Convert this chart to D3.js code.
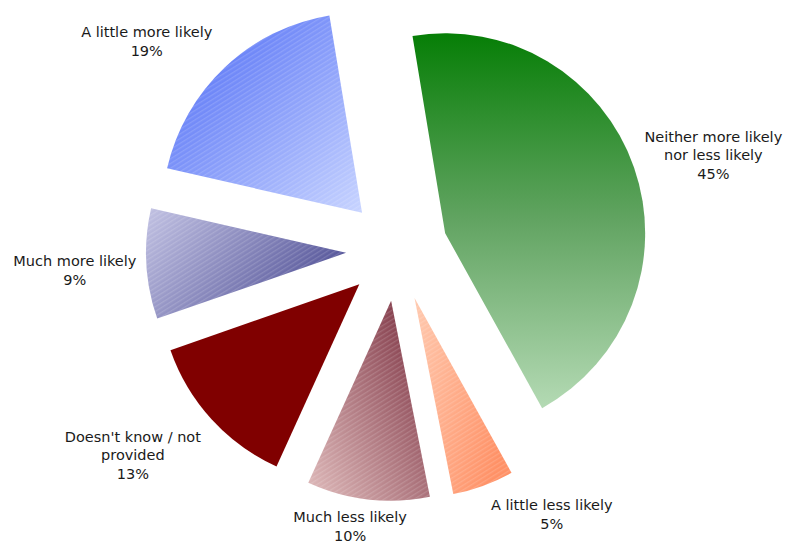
<!DOCTYPE html>
<html>
<head>
<meta charset="utf-8">
<script src="https://cdn.jsdelivr.net/npm/d3@7/dist/d3.min.js"></script>
<style>
  html, body { margin: 0; padding: 0; background: #ffffff; }
  svg { display: block; }
  text { font-family: "DejaVu Sans", Verdana, sans-serif; font-size: 14.5px; fill: #1a1a1a; }
</style>
</head>
<body>
<svg id="chart" width="788" height="544"></svg>
<script>
// Survey responses, clockwise from the top
const categories = [
  "Neither more likely nor less likely",
  "A little less likely",
  "Much less likely",
  "Doesn't know / not provided",
  "Much more likely",
  "A little more likely"
];
const labelLines = [
  ["Neither more likely", "nor less likely"],
  ["A little less likely"],
  ["Much less likely"],
  ["Doesn't know / not", "provided"],
  ["Much more likely"],
  ["A little more likely"]
];
const percentages = [45, 5, 10, 13, 9, 19];

// Slice fills: gradient stops and direction (bounding-box units)
const fills = [
  { stops: ["#067e06", "#62a462", "#b4dab4"], dir: [0, 0, 0, 1], hatch: false },
  { stops: ["#ffcab0", "#ff9166"], dir: [0, 0, 1, 0.6], hatch: true },
  { stops: ["#e0bcbc", "#76293a"], dir: [0, 1, 1, 0], hatch: true },
  { stops: ["#800000", "#800000"], dir: [0, 0, 1, 0], hatch: false },
  { stops: ["#c2c2e3", "#56569a"], dir: [0, 0, 1, 0.45], hatch: true },
  { stops: ["#4866f5", "#c8d4ff"], dir: [0, 0, 1, 1], hatch: true }
];
// Small label adjustments (px) applied after the outside-end placement
const labelNudge = [[0, 1], [42.5, 0], [-10, -2], [-2.5, 3.5], [1, 5], [-9, 1]];

const svg = d3.select("#chart");
const cx = 397, cy = 250;
const radius = 200;
const explode = 51;
const labelGap = 11;
const lineH = 18.5;

const defs = svg.append("defs");
fills.forEach((f, i) => {
  const g = defs.append("linearGradient")
    .attr("id", "grad" + i)
    .attr("x1", f.dir[0]).attr("y1", f.dir[1])
    .attr("x2", f.dir[2]).attr("y2", f.dir[3]);
  f.stops.forEach((c, k) => {
    g.append("stop").attr("offset", (k / (f.stops.length - 1)) * 100 + "%").attr("stop-color", c);
  });
});
// Fine diagonal texture on the shaded slices
const pat = defs.append("pattern")
  .attr("id", "hatch")
  .attr("patternUnits", "userSpaceOnUse")
  .attr("width", 4).attr("height", 4)
  .attr("patternTransform", "rotate(-32)");
pat.append("rect").attr("width", 4).attr("height", 1.3)
  .attr("fill", "#ffffff").attr("fill-opacity", 0.15);

const start = -9.4 * Math.PI / 180;
const pie = d3.pie().sort(null).value(d => d)
  .startAngle(start).endAngle(start + 2 * Math.PI);
const arcs = pie(percentages);
const arc = d3.arc().innerRadius(0).outerRadius(radius);

const g = svg.append("g").attr("transform", `translate(${cx},${cy})`);

const slices = g.selectAll("g.slice").data(arcs).enter().append("g")
  .attr("class", "slice")
  .attr("transform", d => {
    const a = (d.startAngle + d.endAngle) / 2;
    return `translate(${explode * Math.sin(a)},${-explode * Math.cos(a)})`;
  });
slices.append("path")
  .attr("d", arc)
  .attr("fill", (d, i) => `url(#grad${i})`);
slices.filter((d, i) => fills[i].hatch).append("path")
  .attr("d", arc)
  .attr("fill", "url(#hatch)");

// Labels placed just outside each exploded slice
const labels = g.selectAll("g.label").data(arcs).enter().append("g").attr("class", "label");
labels.each(function (d, i) {
  const sel = d3.select(this);
  const lines = labelLines[i].concat([percentages[i] + "%"]);
  const texts = lines.map(s => sel.append("text").attr("text-anchor", "middle")
    .attr("dominant-baseline", "central").text(s));
  const w = d3.max(texts, t => t.node().getComputedTextLength());
  const h = lines.length * lineH;
  const a = (d.startAngle + d.endAngle) / 2;
  const r = radius + explode + labelGap;
  const ux = Math.sin(a), uy = -Math.cos(a);
  const ax = r * ux, ay = r * uy;
  const m = Math.max(Math.abs(ux), Math.abs(uy));
  const bx = ax + (ux / m) * w / 2 + labelNudge[i][0];
  const by = ay + (uy / m) * h / 2 + labelNudge[i][1];
  texts.forEach((t, k) => {
    t.attr("x", bx).attr("y", by - (lines.length - 1) * lineH / 2 + k * lineH);
  });
});
</script>
</body>
</html>
